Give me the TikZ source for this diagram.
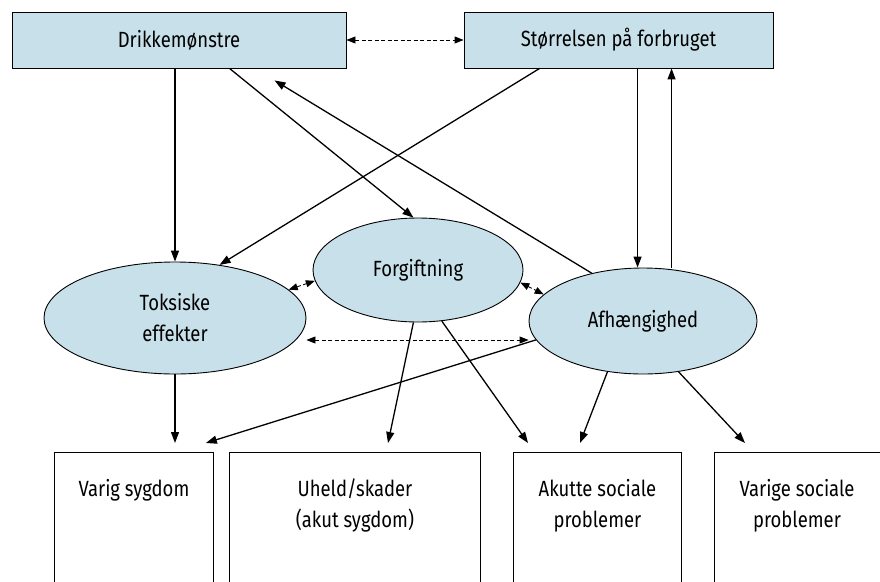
\documentclass[tikz,border=0pt]{standalone}
\usepackage{fontspec}
\setmainfont{Fira Sans}[FakeStretch=0.84]
\usetikzlibrary{arrows.meta,shapes.geometric,calc}
\definecolor{fillb}{RGB}{200,224,233}
\begin{document}
\begin{tikzpicture}[x=1pt,y=-1pt,
  font=\fontsize{22}{31}\selectfont,
  topbox/.style={draw, fill=fillb, minimum height=56, inner sep=0, line width=0.9pt},
  ell/.style={ellipse, draw, fill=fillb, inner sep=0, line width=0.9pt, align=center},
  botbox/.style={draw, anchor=north west, inner sep=0, line width=0.9pt, minimum height=200},
  lbl/.style={align=center, anchor=north, inner sep=0},
  arr/.style={-{Triangle[length=11pt,width=8pt]}, line width=1.3pt},
  darr/.style={{Triangle[length=9pt,width=7pt]}-{Triangle[length=9pt,width=7pt]}, dash pattern=on 4pt off 2.5pt, line width=0.9pt}]
\useasboundingbox (0,0) rectangle (880,581);
\clip (0,0) rectangle (880,581);
% top boxes
\node[topbox, minimum width=334] (dm) at (179,40) {Drikkemønstre};
\node[topbox, minimum width=309] (st) at (618.5,40) {Størrelsen på forbruget};
% ellipses
\node[ell, minimum width=262, minimum height=112] (tox) at (175,318) {Toksiske\\effekter};
\node[ell, minimum width=210, minimum height=104] (forg) at (418,270) {Forgiftning};
\node[ell, minimum width=228, minimum height=106] (afh) at (643,321) {Afhængighed};
% bottom boxes
\node[botbox, minimum width=159] (vs) at (54,452) {};
\node[botbox, minimum width=251] (uh) at (229,452) {};
\node[botbox, minimum width=168] (ak) at (513,452) {};
\node[botbox, minimum width=170] (vg) at (714,452) {};
\node[lbl] (vst) at ($(vs.north)+(0,27)$) {Varig sygdom};
\node[lbl] (uht) at ($(uh.north)+(0,27)$) {Uheld/skader\\(akut sygdom)};
\node[lbl] (akt) at ($(ak.north)+(0,27)$) {Akutte sociale\\problemer};
\node[lbl] (vgt) at ($(vg.north west)+(83,27)$) {Varige sociale\\problemer};
% coordinates on boxes
\coordinate (d1) at ($(dm.south west)+(218,0)$);
\coordinate (d2) at ($(dm.south west)+(263,12)$);
\coordinate (s0) at ($(st.south west)+(76,0)$);
\coordinate (s1) at ($(st.south west)+(174,0)$);
\coordinate (s2) at ($(st.south west)+(208,0)$);
\coordinate (h1) at ($(tox.east)+(0,22)$);
% solid arrows
\draw[arr] (tox.north |- dm.south) -- (tox.north);
\draw[arr] (d1) -- (forg.95);
\draw[arr] (afh.137) -- (d2);
\draw[arr] (s0) -- (tox.50);
\draw[arr] (s1) -- (s1 |- afh.north);
\draw[arr] (s2 |- afh.north) -- (s2);
% dashed arrows
\draw[darr] (dm.east) -- (st.west);
\draw[darr] (tox.14) -- (forg.186);
\draw[darr] (forg.-7) -- (afh.165);
\draw[darr] (h1) -- (h1 -| afh.west);
% arrows to bottom boxes
\draw[arr, shorten >=9pt] (tox.south) -- (tox.south |- vs.north);
\draw[arr] (afh.190) -- ($(vs.north east)+(-8,-9)$);
\draw[arr] (forg.265) -- ($(uh.north west)+(159,-9)$);
\draw[arr] (forg.295) -- ($(ak.north west)+(15,-9)$);
\draw[arr] (afh.235) -- ($(ak.north west)+(67,-9)$);
\draw[arr] (afh.305) -- ($(vg.north west)+(31,-9)$);
\end{tikzpicture}
\end{document}
